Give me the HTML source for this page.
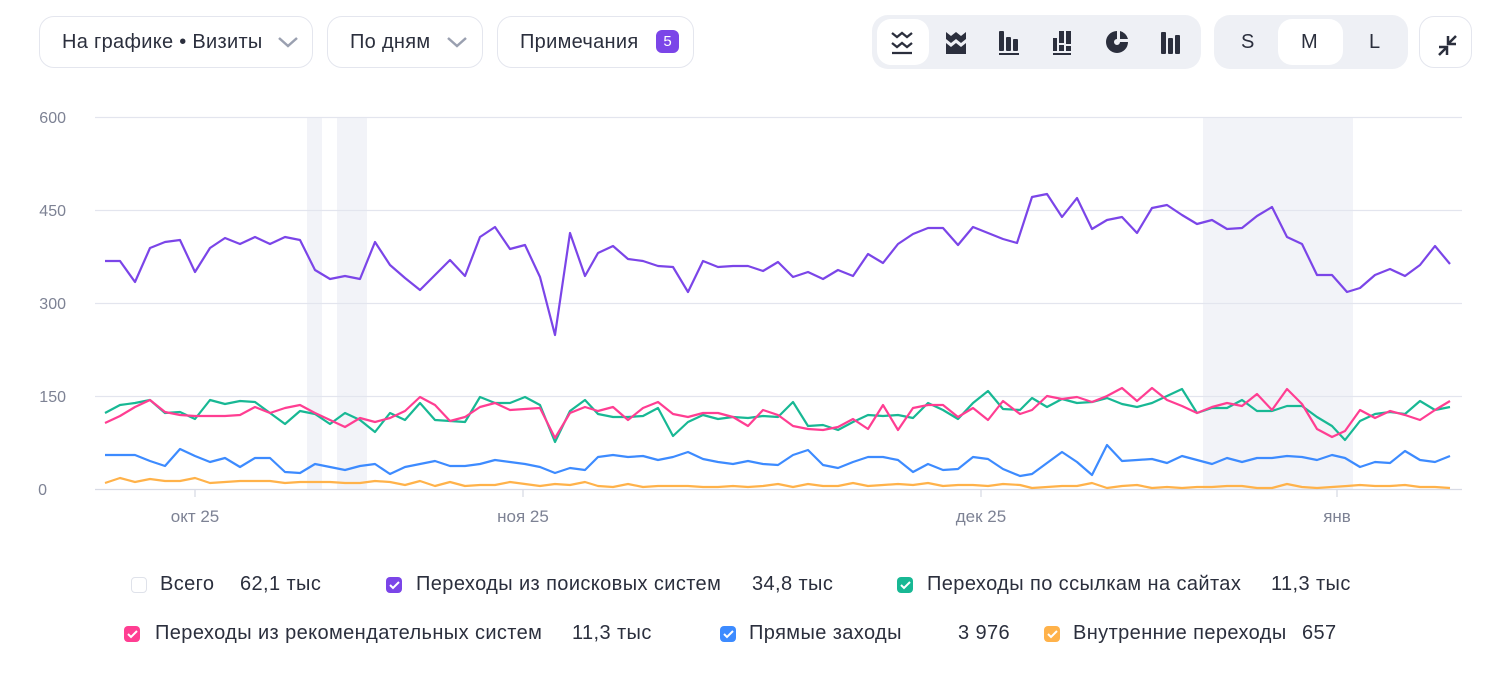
<!DOCTYPE html>
<html><head><meta charset="utf-8"><style>
*{box-sizing:border-box;margin:0;padding:0}
body{width:1505px;height:689px;background:#fff;font-family:"Liberation Sans",sans-serif;color:#2b2f3d;position:relative;overflow:hidden}
.btn{position:absolute;top:16px;height:52px;border:1.5px solid #e4e6ee;border-radius:15px;font-size:20px;letter-spacing:0.3px;display:flex;align-items:center;padding-left:22px}
.grp{position:absolute;top:15px;height:54px;background:#eef0f5;border-radius:16px}
.act{position:absolute;top:4px;height:46px;background:#fff;border-radius:14px}
.lg{position:absolute;font-size:20px;letter-spacing:0.4px;white-space:nowrap}
.cb{position:absolute;width:16px;height:16px;border-radius:4px}
</style></head><body>
<div class="btn" style="left:39px;width:274px">На графике • Визиты<svg style="position:absolute;left:237px;top:18px" width="22" height="14"><path d="M2 3l9 8 9-8" stroke="#9aa0b0" stroke-width="2.5" fill="none"/></svg></div>
<div class="btn" style="left:327px;width:156px">По дням<svg style="position:absolute;left:118px;top:18px" width="22" height="14"><path d="M2 3l9 8 9-8" stroke="#9aa0b0" stroke-width="2.5" fill="none"/></svg></div>
<div class="btn" style="left:497px;width:197px">Примечания<span style="position:absolute;left:158px;top:13px;width:23px;height:23px;background:#7b45e8;border-radius:6px;color:#fff;font-size:15px;text-align:center;line-height:23px;letter-spacing:0">5</span></div>
<div class="grp" style="left:872px;width:329px"><div class="act" style="left:5px;width:52px"></div>
<svg width="329" height="54" style="position:absolute;left:0;top:0" fill="#2b2f3d" stroke="#2b2f3d">
<g fill="none" stroke-width="2.3"><path d="M20 18l5 4 5-4 5 4 5-4M20 28l5 4 5-4 5 4 5-4"/><path d="M20 38h20"/></g>
<path d="M74 17l5 4 5-4 5 4 5-4v7l-5 4-5-4-5 4-5-4zM74 28l5 4 5-4 5 4 5-4v11h-20z" stroke="none"/>
<g stroke="none"><rect x="127" y="16" width="5" height="20" rx="1"/><rect x="134" y="22" width="5" height="14" rx="1"/><rect x="141" y="24" width="5" height="12" rx="1"/><rect x="127" y="38" width="20" height="2"/>
<rect x="181" y="23" width="4" height="13"/><rect x="187" y="16" width="5" height="12"/><rect x="187" y="30" width="5" height="6"/><rect x="194" y="16" width="5" height="13"/><rect x="194" y="31" width="5" height="5"/><rect x="181" y="38" width="18" height="2"/>
<path d="M245 16a11 11 0 1 0 11 11h-8a3 3 0 1 1-3-3z"/><path d="M248 16a11 11 0 0 1 8 8h-8z"/>
<rect x="289" y="17" width="5" height="22" rx="1"/><rect x="296" y="23" width="5" height="16" rx="1"/><rect x="303" y="20" width="5" height="19" rx="1"/></g></svg></div>
<div class="grp" style="left:1214px;width:194px"><div class="act" style="left:64px;width:65px"></div>
<span style="position:absolute;left:27px;top:16px;font-size:20px">S</span><span style="position:absolute;left:87px;top:16px;font-size:20px">M</span><span style="position:absolute;left:155px;top:16px;font-size:20px">L</span></div>
<div class="btn" style="left:1419px;width:53px;padding:0"><svg width="53" height="52" style="position:absolute;left:-1px;top:-1px" stroke="#2b2f3d" stroke-width="2.5" fill="none"><path d="M20 39l8-8M20 31h8v8M37 20l-8 8M29 20v8h8"/></svg></div>

<svg width="1505" height="689" style="position:absolute;left:0;top:0">
<g fill="#f2f3f8"><rect x="307" y="117" width="15" height="372"/><rect x="337" y="117" width="30" height="372"/><rect x="1203" y="117" width="150" height="372"/></g>
<g stroke="#e3e5ee" stroke-width="1.3"><path d="M95 117.5H1462M95 210.5H1462M95 303.5H1462M95 396.5H1462"/><path d="M95 489.5H1462" stroke="#d8dbe5"/><path d="M195 490v7M523 490v7M981 490v7M1337 490v7" stroke="#d8dbe5"/></g>
<g font-size="16" fill="#7d8294" text-anchor="end"><text x="66" y="123">600</text><text x="66" y="216">450</text><text x="66" y="309">300</text><text x="66" y="402">150</text><text x="47" y="495">0</text></g>
<g font-size="17" fill="#7d8294" text-anchor="middle"><text x="195" y="522">окт 25</text><text x="523" y="522">ноя 25</text><text x="981" y="522">дек 25</text><text x="1337" y="522">янв</text></g>
<g fill="none" stroke-width="2.2" stroke-linejoin="round">
<polyline stroke="#ffb24a" points="105,483 120,478 135,482 150,479 165,481 180,481 195,478 210,483 225,482 240,481 255,481 270,481 285,483 300,482 315,482 330,482 345,483 360,483 375,481 390,482 405,485 420,481 435,486 450,482 465,486 480,485 495,485 510,482 525,484 540,486 555,484 570,485 585,482 598,486 613,487 628,484 643,487 658,486 673,486 688,486 703,487 718,487 733,486 748,487 763,486 778,484 793,487 808,484 823,486 838,486 853,483 868,486 883,485 898,484 913,485 928,483 943,486 958,485 973,485 988,486 1003,484 1020,485 1032,488 1047,487 1062,486 1077,486 1092,483 1107,488 1122,486 1137,485 1152,488 1167,487 1182,488 1197,487 1212,487 1227,486 1242,486 1257,488 1272,488 1287,484 1302,487 1317,488 1332,487 1347,486 1360,485 1375,486 1390,486 1405,485 1420,487 1435,487 1450,488"/>
<polyline stroke="#3d8bff" points="105,455 120,455 135,455 150,461 165,466 180,449 195,456 210,462 225,458 240,467 255,458 270,458 285,472 300,473 315,464 330,467 345,470 360,466 375,464 390,474 405,467 420,464 435,461 450,466 465,466 480,464 495,460 510,462 525,464 540,467 555,473 570,468 585,470 598,457 613,455 628,457 643,456 658,460 673,457 688,452 703,459 718,462 733,464 748,461 763,464 778,465 793,455 808,450 823,465 838,468 853,462 868,457 883,457 898,460 913,472 928,464 943,470 958,469 973,457 988,459 1003,469 1020,476 1032,474 1047,463 1062,452 1077,462 1092,475 1107,445 1122,461 1137,460 1152,459 1167,463 1182,456 1197,460 1212,464 1227,458 1242,462 1257,458 1272,458 1287,456 1302,457 1317,460 1332,455 1345,458 1360,467 1375,462 1390,463 1405,451 1420,460 1435,462 1450,456"/>
<polyline stroke="#18b894" points="105,413 120,405 135,403 150,400 165,413 180,412 195,419 210,400 225,404 240,401 255,402 270,413 285,424 300,411 315,414 330,424 345,413 360,420 375,432 390,413 405,420 420,403 435,420 450,421 465,422 480,397 495,403 510,403 525,397 540,405 555,442 570,411 585,400 598,414 613,417 628,417 643,416 658,408 673,436 688,422 703,415 718,419 733,417 748,418 763,416 778,417 793,402 808,426 823,425 838,430 853,422 868,415 883,416 898,415 913,418 928,403 943,410 958,419 973,403 988,391 1003,409 1020,410 1032,398 1047,407 1062,399 1077,403 1092,402 1107,398 1122,404 1137,407 1152,403 1167,396 1182,389 1197,413 1212,408 1227,408 1242,400 1257,411 1272,411 1287,406 1302,406 1317,417 1332,426 1345,440 1360,421 1375,414 1390,412 1405,414 1420,401 1435,410 1450,407"/>
<polyline stroke="#ff3e92" points="105,423 120,416 135,407 150,400 165,412 180,415 195,416 210,416 225,416 240,415 255,407 270,413 285,408 300,405 315,413 330,420 345,427 360,418 375,422 390,418 405,411 420,397 435,405 450,421 465,417 480,407 495,403 510,410 525,409 540,408 555,438 570,413 585,407 598,411 613,407 628,420 643,408 658,402 673,414 688,417 703,413 718,413 733,417 748,426 763,410 778,415 793,426 808,429 823,430 838,427 853,419 868,429 883,405 898,430 913,408 928,405 943,405 958,417 973,408 988,420 1003,401 1020,414 1032,410 1047,396 1062,399 1077,397 1092,402 1107,396 1122,388 1137,401 1152,388 1167,400 1182,406 1197,413 1212,407 1227,403 1242,406 1257,394 1272,410 1287,389 1302,404 1317,429 1332,437 1345,431 1360,410 1375,418 1390,411 1405,415 1420,420 1435,410 1450,401"/>
<polyline stroke="#7b45e8" points="105,261 120,261 135,282 150,248 165,242 180,240 195,272 210,248 225,238 240,244 255,237 270,244 285,237 300,240 315,270 330,279 345,276 360,279 375,242 390,265 405,278 420,290 435,275 450,260 465,276 480,237 495,227 510,249 525,245 540,277 555,335 570,233 585,276 598,253 613,246 628,259 643,261 658,266 673,267 688,292 703,261 718,267 733,266 748,266 763,271 778,262 793,277 808,272 823,279 838,270 853,276 868,254 883,263 898,244 913,234 928,228 943,228 958,245 973,227 988,233 1003,239 1017,243 1032,197 1047,194 1062,217 1077,198 1092,229 1107,220 1122,217 1137,233 1152,208 1167,205 1182,215 1197,224 1212,220 1227,229 1242,228 1257,216 1272,207 1287,237 1302,244 1317,275 1332,275 1347,292 1360,288 1375,275 1390,269 1405,276 1420,265 1435,246 1450,264"/>
</g></svg>

<div class="cb" style="left:131px;top:577px;border:1.5px solid #dfe2ea"></div>
<div class="lg" style="left:160px;top:573px">Всего</div><div class="lg" style="left:240px;top:573px">62,1 тыс</div>
<div class="cb" style="left:386px;top:577px;background:#7b45e8"></div>
<div class="lg" style="left:416px;top:573px">Переходы из поисковых систем</div><div class="lg" style="left:752px;top:573px">34,8 тыс</div>
<div class="cb" style="left:897px;top:577px;background:#18b894"></div>
<div class="lg" style="left:927px;top:573px">Переходы по ссылкам на сайтах</div><div class="lg" style="left:1271px;top:573px">11,3 тыс</div>
<div class="cb" style="left:124px;top:626px;background:#ff3e92"></div>
<div class="lg" style="left:155px;top:622px">Переходы из рекомендательных систем</div><div class="lg" style="left:572px;top:622px">11,3 тыс</div>
<div class="cb" style="left:720px;top:626px;background:#3d8bff"></div>
<div class="lg" style="left:749px;top:622px">Прямые заходы</div><div class="lg" style="left:958px;top:622px">3 976</div>
<div class="cb" style="left:1044px;top:626px;background:#ffb24a"></div>
<div class="lg" style="left:1073px;top:622px">Внутренние переходы</div><div class="lg" style="left:1302px;top:622px">657</div>
<svg width="1505" height="689" style="position:absolute;left:0;top:0" fill="none" stroke="#fff" stroke-width="2"><path d="M390 585l3 3 6-6M901 585l3 3 6-6M128 634l3 3 6-6M724 634l3 3 6-6M1048 634l3 3 6-6"/></svg>
</body></html>
